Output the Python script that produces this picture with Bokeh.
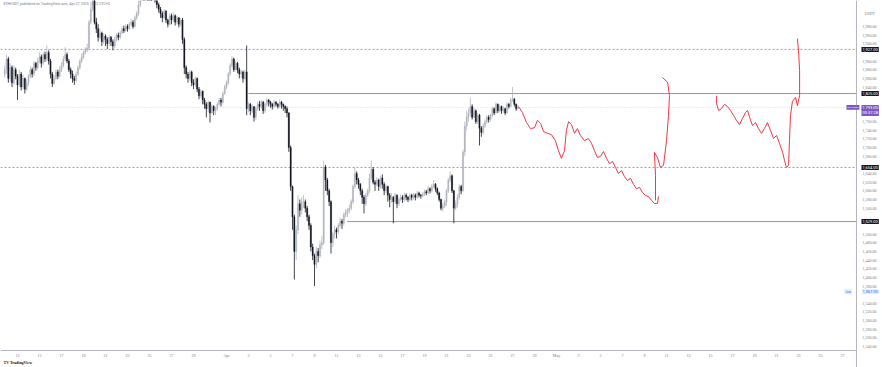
import numpy as np
from bokeh.plotting import figure
from bokeh.models import Range1d, Label, Span, ColumnDataSource
from bokeh.embed import file_html
from bokeh.resources import INLINE

# ---------------- data ----------------
title_text = "ETHUSDT, published on TradingView.com, Apr 27, 2025 13:22 UTC+3"
quote_ccy = "USDT"
symbol_tag = "ETHUSDT"
logo_text = "TV TradingView"
# x in days relative to Apr 7 00:00; 4H candles starting Mar 11 20:00
candle_start = -26 - 4 / 24
candle_step = 4 / 24
first_open = 1870

close_by_day = [
    [1880],
    [1905, 1860, 1885, 1850, 1880, 1865],
    [1845, 1870, 1840, 1860, 1835, 1850],
    [1865, 1880, 1870, 1895, 1885, 1900],
    [1910, 1895, 1915, 1905, 1920, 1900],
    [1870, 1848, 1860, 1875, 1865, 1880],
    [1890, 1905, 1915, 1900, 1880, 1870],
    [1860, 1855, 1870, 1885, 1900, 1910],
    [1920, 1925, 1930, 1990, 2020, 2045],
    [1990, 1975, 1955, 1965, 1945, 1958],
    [1950, 1940, 1955, 1945, 1935, 1950],
    [1960, 1955, 1965, 1975, 1970, 1980],
    [1975, 1985, 1990, 1980, 2000, 2010],
    [2030, 2060, 2080, 2070, 2090, 2080],
    [2060, 2050, 2065, 2040, 2030, 2020],
    [2010, 2000, 2015, 1995, 1985, 2005],
    [1995, 2005, 1990, 2000, 1985, 1995],
    [1950, 1885, 1870, 1860, 1875, 1850],
    [1845, 1860, 1835, 1820, 1830, 1810],
    [1800, 1790, 1805, 1780, 1795, 1785],
    [1790, 1800, 1810, 1805, 1825, 1840],
    [1850, 1870, 1890, 1905, 1880, 1895],
    [1880, 1870, 1875, 1860, 1875, 1790],
    [1800, 1785, 1795, 1770, 1790, 1800],
    [1795, 1805, 1785, 1800, 1810, 1805],
    [1800, 1795, 1805, 1800, 1795, 1805],
    [1800, 1795, 1790, 1780, 1700, 1610],
    [1540, 1460, 1510, 1570, 1555, 1575],
    [1575, 1560, 1540, 1520, 1470, 1450],
    [1430, 1460, 1450, 1475, 1480, 1655],
    [1625, 1600, 1575, 1480, 1500, 1510],
    [1505, 1520, 1530, 1525, 1545, 1550],
    [1555, 1560, 1575, 1610, 1640, 1625],
    [1615, 1600, 1585, 1570, 1590, 1600],
    [1630, 1650, 1620, 1615, 1625, 1610],
    [1630, 1615, 1600, 1610, 1590, 1580],
    [1585, 1575, 1590, 1570, 1580, 1585],
    [1580, 1590, 1585, 1580, 1590, 1585],
    [1590, 1585, 1595, 1590, 1588, 1592],
    [1598, 1595, 1605, 1600, 1610, 1615],
    [1605, 1595, 1580, 1560, 1565, 1575],
    [1600, 1625, 1635, 1600, 1560, 1570],
    [1585, 1610, 1600, 1690, 1750, 1770],
    [1780, 1795, 1770, 1785, 1760, 1775],
    [1745, 1735, 1750, 1760, 1770, 1765],
    [1775, 1790, 1780, 1800, 1785, 1795],
    [1785, 1790, 1780, 1800, 1795, 1810],
    [1812, 1800, 1790, 1793],
]

high_by_day = [
    [1890],
    [1915, 1910, 1895, 1890, 1890, 1885],
    [1870, 1880, 1875, 1868, 1862, 1858],
    [1870, 1888, 1885, 1900, 1898, 1908],
    [1920, 1915, 1920, 1922, 1936, 1925],
    [1905, 1875, 1868, 1882, 1880, 1888],
    [1898, 1912, 1932, 1920, 1905, 1885],
    [1878, 1866, 1876, 1890, 1905, 1918],
    [1925, 1932, 1940, 1995, 2030, 2060],
    [2050, 2000, 1985, 1975, 1968, 1965],
    [1962, 1955, 1960, 1958, 1950, 1956],
    [1965, 1966, 1970, 1980, 1982, 1985],
    [1985, 1990, 1998, 1995, 2005, 2015],
    [2040, 2070, 2090, 2090, 2100, 2095],
    [2085, 2065, 2070, 2068, 2045, 2035],
    [2025, 2015, 2020, 2018, 1998, 2010],
    [2010, 2012, 2008, 2005, 2002, 2000],
    [2000, 1955, 1890, 1875, 1880, 1878],
    [1858, 1865, 1862, 1840, 1835, 1832],
    [1815, 1805, 1810, 1806, 1800, 1798],
    [1795, 1805, 1815, 1815, 1830, 1845],
    [1855, 1875, 1895, 1912, 1908, 1900],
    [1898, 1885, 1880, 1878, 1880, 1936],
    [1805, 1803, 1800, 1795, 1795, 1806],
    [1808, 1810, 1808, 1804, 1815, 1812],
    [1808, 1803, 1810, 1808, 1803, 1812],
    [1808, 1802, 1798, 1795, 1782, 1705],
    [1612, 1545, 1520, 1590, 1580, 1585],
    [1590, 1580, 1565, 1545, 1525, 1478],
    [1455, 1470, 1468, 1485, 1495, 1670],
    [1660, 1630, 1605, 1578, 1505, 1520],
    [1515, 1525, 1538, 1535, 1550, 1558],
    [1560, 1568, 1580, 1615, 1654, 1645],
    [1630, 1618, 1605, 1590, 1595, 1605],
    [1640, 1670, 1655, 1625, 1632, 1628],
    [1635, 1638, 1620, 1615, 1612, 1595],
    [1595, 1588, 1595, 1592, 1585, 1592],
    [1590, 1596, 1594, 1588, 1595, 1593],
    [1595, 1594, 1600, 1598, 1593, 1597],
    [1603, 1602, 1612, 1608, 1616, 1625],
    [1618, 1608, 1598, 1582, 1572, 1580],
    [1605, 1630, 1645, 1638, 1602, 1578],
    [1592, 1615, 1614, 1695, 1760, 1785],
    [1790, 1816, 1800, 1792, 1788, 1780],
    [1778, 1750, 1756, 1765, 1775, 1775],
    [1778, 1795, 1793, 1805, 1802, 1800],
    [1797, 1795, 1792, 1805, 1803, 1815],
    [1840, 1815, 1802, 1798],
]

low_by_day = [
    [1862],
    [1870, 1850, 1852, 1840, 1845, 1858],
    [1810, 1840, 1832, 1835, 1825, 1830],
    [1842, 1860, 1862, 1865, 1878, 1880],
    [1895, 1885, 1890, 1898, 1900, 1892],
    [1860, 1840, 1845, 1856, 1858, 1862],
    [1875, 1885, 1900, 1895, 1875, 1860],
    [1850, 1845, 1850, 1866, 1880, 1895],
    [1905, 1915, 1920, 1925, 1985, 2015],
    [1985, 1965, 1945, 1950, 1935, 1940],
    [1935, 1928, 1935, 1935, 1925, 1930],
    [1945, 1948, 1950, 1962, 1965, 1968],
    [1968, 1972, 1980, 1975, 1978, 1995],
    [2005, 2025, 2055, 2060, 2065, 2070],
    [2050, 2040, 2045, 2035, 2022, 2012],
    [2000, 1990, 1998, 1988, 1978, 1982],
    [1985, 1990, 1982, 1985, 1978, 1980],
    [1940, 1870, 1860, 1850, 1855, 1842],
    [1835, 1840, 1828, 1812, 1815, 1800],
    [1790, 1770, 1782, 1758, 1778, 1775],
    [1775, 1785, 1798, 1795, 1800, 1822],
    [1835, 1845, 1865, 1885, 1875, 1878],
    [1872, 1860, 1862, 1850, 1855, 1775],
    [1782, 1775, 1780, 1760, 1765, 1785],
    [1785, 1790, 1778, 1780, 1795, 1795],
    [1792, 1788, 1792, 1795, 1790, 1792],
    [1790, 1785, 1780, 1770, 1690, 1600],
    [1510, 1395, 1440, 1500, 1540, 1545],
    [1560, 1550, 1530, 1510, 1460, 1440],
    [1380, 1420, 1435, 1445, 1465, 1475],
    [1600, 1590, 1565, 1455, 1470, 1490],
    [1490, 1500, 1515, 1512, 1520, 1538],
    [1540, 1548, 1555, 1570, 1605, 1615],
    [1605, 1590, 1570, 1548, 1565, 1585],
    [1595, 1625, 1615, 1600, 1610, 1600],
    [1605, 1605, 1590, 1595, 1575, 1562],
    [1572, 1525, 1570, 1560, 1565, 1576],
    [1572, 1575, 1578, 1574, 1576, 1578],
    [1580, 1578, 1582, 1585, 1582, 1585],
    [1588, 1590, 1592, 1594, 1596, 1606],
    [1598, 1590, 1575, 1555, 1552, 1560],
    [1565, 1595, 1620, 1595, 1525, 1555],
    [1562, 1580, 1592, 1598, 1680, 1740],
    [1760, 1772, 1765, 1768, 1755, 1755],
    [1705, 1725, 1730, 1745, 1755, 1758],
    [1760, 1770, 1775, 1778, 1780, 1782],
    [1778, 1780, 1775, 1778, 1790, 1794],
    [1805, 1795, 1785, 1788],
]

# horizontal levels
dashed_levels = [1927, 1654]
solid_levels = [1825, 1529]
solid_starts = [-4.0, 4.97]
last_price = 1793
last_countdown = "00:37:28"
low_marker = 1367

# hand-drawn projection (days since Apr 7, price)
path1_x = [20.55, 20.9, 21.27, 21.64, 22.0, 22.27, 22.55, 22.82, 23.18, 23.55, 23.9, 24.18,
           24.45, 24.73, 24.9, 25.1, 25.36, 25.64, 25.9, 26.18, 26.55, 26.9, 27.18, 27.45,
           27.73, 28.0, 28.27, 28.55, 28.82, 29.1, 29.36, 29.64, 29.9, 30.18, 30.45, 30.73,
           31.0, 31.27, 31.55, 31.82, 32.1, 32.36, 32.64, 32.9, 33.18, 33.27]
path1_y = [1795, 1781, 1758, 1744, 1746, 1763, 1756, 1737, 1733, 1730, 1716, 1693,
           1675, 1693, 1740, 1760, 1753, 1733, 1744, 1728, 1716, 1721, 1710, 1693,
           1677, 1680, 1691, 1675, 1663, 1668, 1654, 1640, 1647, 1633, 1624, 1629,
           1615, 1605, 1608, 1596, 1589, 1587, 1578, 1571, 1571, 1587]
path2_x = [33.0, 33.0, 32.9, 33.18, 33.45, 33.73, 34.0, 34.18, 34.27, 34.1, 33.64]
path2_y = [1578, 1636, 1689, 1677, 1654, 1659, 1716, 1774, 1820, 1851, 1862]
path3_x = [38.55, 38.55, 38.73, 39.0, 39.27, 39.55, 39.82, 40.1, 40.36, 40.64, 40.9, 41.18,
           41.36, 41.55, 41.82, 42.1, 42.36, 42.64, 42.9, 43.18, 43.45, 43.73, 44.0, 44.27,
           44.55, 44.73, 44.9, 45.1, 45.18, 45.27, 45.45, 45.73, 45.9, 46.1, 46.1, 46.0, 45.9]
path3_y = [1820, 1802, 1786, 1790, 1800, 1795, 1786, 1774, 1763, 1753, 1767, 1781,
           1786, 1770, 1751, 1758, 1744, 1733, 1744, 1758, 1740, 1721, 1728, 1710,
           1689, 1670, 1654, 1659, 1716, 1774, 1807, 1816, 1797, 1820, 1878, 1925, 1952]

# axes
x_tick_days = [-25, -23, -21, -19, -17, -15, -13, -11, -9, -6, -4, -2, 0, 2, 4, 6, 8, 10, 12,
               14, 16, 18, 20, 22, 24, 26, 28, 30, 32, 34, 36, 38, 40, 42, 44, 46, 48, 50]
x_tick_labels = ["13", "15", "17", "19", "21", "23", "25", "27", "29", "Apr", "3", "5", "7",
                 "9", "11", "13", "15", "17", "19", "21", "23", "25", "27", "29", "May", "3",
                 "5", "7", "9", "11", "13", "15", "17", "19", "21", "23", "25", "27"]
y_tick_prices = list(range(1240, 2000, 20))

# ---------------- build ----------------
close = np.array(sum(close_by_day, []), dtype=float)
high_t = np.array(sum(high_by_day, []), dtype=float)
low_t = np.array(sum(low_by_day, []), dtype=float)
n = len(close)
opn = np.concatenate([[first_open], close[:-1]])
high = np.maximum(high_t, np.maximum(opn, close))
low = np.minimum(low_t, np.minimum(opn, close))
xs = candle_start + np.arange(n) * candle_step

UP = "#b2b5be"
DN = "#131722"
colors = [UP if c >= o else DN for o, c in zip(opn, close)]
src = ColumnDataSource(dict(x=xs, o=opn, c=close, h=high, l=low, col=colors,
                            top=np.maximum(opn, close), bot=np.minimum(opn, close)))

# layout of the whole canvas in (days, price) space
X0, XE, X1 = -26.545, 51.27, 53.636     # left edge, price-scale edge, right edge
Y0, YB, Y1 = 1191.6, 1230.9, 2040.1      # bottom edge, time-axis line, top edge
Y_TIME = 1219.4                          # time labels row
Y_LOGO = 1203.2                          # watermark row
FONT = "Roboto"
GRAY = "#787b86"
LINE = "#b2b5be"

p = figure(width=882, height=367, x_range=Range1d(X0, X1), y_range=Range1d(Y0, Y1),
           output_backend="svg", toolbar_location=None,
           x_axis_location=None, y_axis_location=None,
           min_border_left=0, min_border_top=0, min_border_right=0, min_border_bottom=0)
p.grid.visible = False
p.outline_line_color = None
p.background_fill_color = "white"
p.border_fill_color = "white"

# level lines (end at the price scale)
p.segment(x0=X0, x1=XE, y0=dashed_levels, y1=dashed_levels, line_color="#868993",
          line_dash="2 2", line_width=0.8)
p.segment(x0=X0, x1=XE, y0=last_price, y1=last_price, line_color="#b39ddb",
          line_dash="1 2", line_width=0.8, line_alpha=0.6)
p.segment(x0=solid_starts, x1=XE, y0=solid_levels, y1=solid_levels,
          line_color=GRAY, line_width=0.8)

# candles
p.segment(x0="x", y0="l", x1="x", y1="h", color="col", line_width=0.8, source=src)
p.vbar(x="x", width=candle_step * 0.7, top="top", bottom="bot", fill_color="col",
       line_color="col", line_width=0.3, source=src)

# projection drawing
for px, py in [(path1_x, path1_y), (path2_x, path2_y), (path3_x, path3_y)]:
    p.line(px, py, line_color="#f23645", line_width=1)

# blank out the strip below the chart area, then draw the time axis
p.quad(left=X0, right=X1, bottom=Y0, top=YB, fill_color="white", line_color=None)
p.segment(x0=X0, x1=XE, y0=YB, y1=YB, line_color=LINE, line_width=1.2)
p.add_layout(Span(location=XE, dimension="height", line_color=LINE, line_width=1))
p.text(x=x_tick_days, y=Y_TIME, text=x_tick_labels, text_font_size="4px",
       text_font=FONT, text_color=GRAY, text_baseline="middle", text_align="center")
p.text(x=X0, y=Y_LOGO, text=[logo_text], x_offset=3, text_font_size="4px",
       text_font=FONT, text_color="#131722", text_font_style="bold",
       text_baseline="middle", text_align="left")

# price scale labels
box_prices = dashed_levels + solid_levels + [last_price, last_price - 18, low_marker]
shown = [t for t in y_tick_prices if all(abs(t - b) > 12 for b in box_prices)]
p.text(x=XE, y=shown, text=[f"{t:,.2f}" for t in shown], x_offset=6,
       text_font_size="4px", text_font=FONT, text_color=GRAY,
       text_baseline="middle", text_align="left")
p.text(x=XE, y=Y1, text=[quote_ccy], x_offset=8, y_offset=13,
       text_font_size="4px", text_font=FONT, text_color=GRAY,
       text_baseline="middle", text_align="left")


def box(price, text, bg, fg, yoff=0):
    p.add_layout(Label(x=XE, y=price, x_offset=5, y_offset=yoff, text=text,
                       text_font_size="4px", text_font=FONT, text_color=fg,
                       text_baseline="middle", text_align="left",
                       background_fill_color=bg, padding=1))


for lv in dashed_levels + solid_levels:
    box(lv, f"{lv:,.2f}", "#131722", "white")
box(last_price, f"{last_price:,.2f}", "#7e57c2", "white", yoff=0)
box(last_price, last_countdown, "#7e57c2", "white", yoff=-5)
box(low_marker, f"{low_marker:,.2f}", "#e3effd", "#2962ff")

# symbol tag left of the price scale
p.add_layout(Label(x=XE, y=last_price, x_offset=-10, text=symbol_tag,
                   text_font_size="2.5px", text_font=FONT, text_color="white",
                   text_baseline="middle", text_align="left",
                   background_fill_color="#7e57c2", padding=1))
p.add_layout(Label(x=XE, y=low_marker, x_offset=-12, text="Low",
                   text_font_size="3px", text_font=FONT, text_color="#2962ff",
                   text_baseline="middle", text_align="left",
                   background_fill_color="#e3effd", padding=1))

# title at top-left
p.add_layout(Label(x=X0, y=Y1, x_offset=3, y_offset=-1, text=title_text,
                   text_font_size="3.5px", text_font=FONT, text_color=GRAY,
                   text_baseline="top", text_align="left"))

open("out.html", "w").write(file_html(p, INLINE))
